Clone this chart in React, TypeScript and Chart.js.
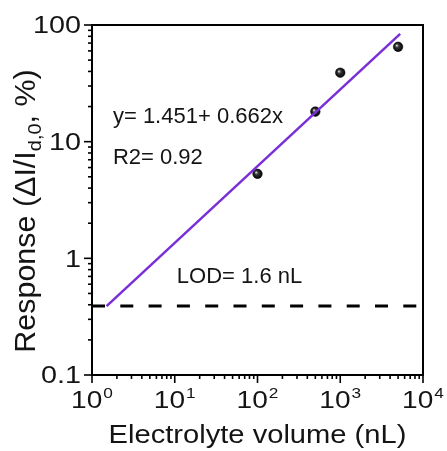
import { useEffect, useRef } from 'react';
import { Chart, registerables } from 'chart.js';

Chart.register(...registerables);

// ---- data ----
const volumes = [100, 500, 1000, 5000];
const responses = [5.3, 18.1, 39, 65];
const fitX = [1.5, 5300];
const fitY = [0.39, 84];
const lodX = [1, 10000];
const lodY = [0.39, 0.39];

// ---- axes / labels ----
const yTickValues = [0.1, 1, 10, 100];
const yTickLabels = ['0.1', '1', '10', '100'];
const xTickValues = [1, 10, 100, 1000, 10000];
const xTickBase = ['10', '10', '10', '10', '10'];
const xTickExp = ['0', '1', '2', '3', '4'];
const xTitle = 'Electrolyte volume (nL)';
const yTitleMain = 'Response (ΔI/I';
const yTitleSub = 'd,0';
const yTitleEnd = ', %)';
const noteTexts = ['y= 1.451+ 0.662x', 'R2= 0.92', 'LOD= 1.6 nL'];
const noteX = [1.79, 1.79, 10.6];
const noteY = [14.5, 6.44, 0.615];

const FONT = "Arial, 'Liberation Sans', sans-serif";
const TEXT = '#141414';

function drawStretched(ctx: CanvasRenderingContext2D, text: string, x: number, y: number, size: number, sx: number, align: 'left' | 'right' | 'center') {
  ctx.save();
  ctx.font = `${size}px ${FONT}`;
  const w = ctx.measureText(text).width * sx;
  let left = x;
  if (align === 'right') left = x - w;
  else if (align === 'center') left = x - w / 2;
  ctx.translate(left, y);
  ctx.scale(sx, 1);
  ctx.textAlign = 'left';
  ctx.fillText(text, 0, 0);
  ctx.restore();
  return w;
}

function seg(ctx: CanvasRenderingContext2D, x1: number, y1: number, x2: number, y2: number) {
  ctx.beginPath();
  ctx.moveTo(x1, y1);
  ctx.lineTo(x2, y2);
  ctx.stroke();
}

const decorPlugin = {
  id: 'decor',
  afterDraw(chart: any) {
    const ctx: CanvasRenderingContext2D = chart.ctx;
    const a = chart.chartArea;
    const xs = chart.scales.x;
    const ys = chart.scales.y;
    ctx.save();
    ctx.strokeStyle = '#000';
    ctx.fillStyle = TEXT;
    // frame
    ctx.lineWidth = 2;
    ctx.strokeRect(a.left, a.top, a.right - a.left, a.bottom - a.top);
    // y ticks
    ctx.lineWidth = 1.6;
    yTickValues.forEach((v, k) => {
      const py = ys.getPixelForValue(v);
      seg(ctx, a.left - 8, py, a.left, py);
      if (k < yTickValues.length - 1) {
        for (let m = 2; m <= 9; m++) {
          const p2 = ys.getPixelForValue(v * m);
          seg(ctx, a.left - 4, p2, a.left, p2);
        }
      }
    });
    // x ticks
    xTickValues.forEach((v, k) => {
      const px = xs.getPixelForValue(v);
      seg(ctx, px, a.bottom, px, a.bottom + 8);
      if (k < xTickValues.length - 1) {
        for (let m = 2; m <= 9; m++) {
          const p2 = xs.getPixelForValue(v * m);
          seg(ctx, p2, a.bottom, p2, a.bottom + 4);
        }
      }
    });
    // y tick labels
    ctx.textBaseline = 'alphabetic';
    yTickValues.forEach((v, k) => {
      const py = ys.getPixelForValue(v);
      drawStretched(ctx, yTickLabels[k], a.left - 11, py + 8.3, 23, 1.25, 'right');
    });
    // x tick labels
    xTickValues.forEach((v, k) => {
      const px = xs.getPixelForValue(v);
      ctx.font = `23px ${FONT}`;
      const wb = ctx.measureText(xTickBase[k]).width * 1.22;
      ctx.font = `15px ${FONT}`;
      const we = ctx.measureText(xTickExp[k]).width * 1.15;
      const total = wb + 1 + we;
      const left = px - total / 2;
      drawStretched(ctx, xTickBase[k], left, a.bottom + 33, 23, 1.22, 'left');
      drawStretched(ctx, xTickExp[k], left + wb + 1, a.bottom + 23, 15, 1.15, 'left');
    });
    // x title
    drawStretched(ctx, xTitle, (a.left + a.right) / 2, 443, 26, 1.12, 'center');
    // y title (rotated, with subscript)
    ctx.save();
    ctx.translate(35, 211);
    ctx.rotate(-Math.PI / 2);
    ctx.scale(1.05, 1);
    ctx.font = `29px ${FONT}`;
    const w1 = ctx.measureText(yTitleMain).width;
    const w3 = ctx.measureText(yTitleEnd).width;
    ctx.font = `19px ${FONT}`;
    const w2 = ctx.measureText(yTitleSub).width;
    let sx = -(w1 + w2 + w3) / 2;
    ctx.textAlign = 'left';
    ctx.font = `29px ${FONT}`;
    ctx.fillText(yTitleMain, sx, 0);
    sx += w1;
    ctx.font = `19px ${FONT}`;
    ctx.fillText(yTitleSub, sx, 6);
    sx += w2;
    ctx.font = `29px ${FONT}`;
    ctx.fillText(yTitleEnd, sx, 0);
    ctx.restore();
    // annotations
    noteTexts.forEach((t, k) => {
      const px = xs.getPixelForValue(noteX[k]);
      const py = ys.getPixelForValue(noteY[k]);
      drawStretched(ctx, t, px, py, 22, 1.0, 'left');
    });
    ctx.restore();
  },
};

function ballColor(c: any) {
  const ch = c.chart;
  const p = c.parsed;
  if (!p || !ch.scales || !ch.scales.x) return '#000';
  const px = ch.scales.x.getPixelForValue(p.x);
  const py = ch.scales.y.getPixelForValue(p.y);
  if (!isFinite(px) || !isFinite(py)) return '#000';
  const g = ch.ctx.createRadialGradient(px - 1.5, py - 1.5, 0.2, px, py, 5);
  g.addColorStop(0, '#d8d8d8');
  g.addColorStop(0.35, '#333');
  g.addColorStop(1, '#000');
  return g;
}

export default function App() {
  const ref = useRef<HTMLCanvasElement | null>(null);
  useEffect(() => {
    document.body.style.margin = '0';
    if (!ref.current) return;
    const chart = new Chart(ref.current, {
      type: 'scatter',
      data: {
        datasets: [
          {
            label: 'Fit',
            data: fitX.map((x, i) => ({ x, y: fitY[i] })),
            showLine: true,
            borderColor: '#7a2ed8',
            borderWidth: 2.5,
            pointRadius: 0,
            order: 0,
          },
          {
            label: 'Response',
            data: volumes.map((x, i) => ({ x, y: responses[i] })),
            backgroundColor: ballColor,
            borderColor: '#000',
            borderWidth: 0.5,
            pointRadius: 4.8,
            order: 1,
          },
          {
            label: 'LOD',
            data: lodX.map((x, i) => ({ x, y: lodY[i] })),
            showLine: true,
            borderColor: '#000',
            borderWidth: 3,
            borderDash: [13, 15.3],
            pointRadius: 0,
            order: 2,
          },
        ],
      },
      options: {
        animation: false,
        responsive: false,
        maintainAspectRatio: false,
        layout: { padding: { top: 25, right: 24, left: 0, bottom: 0 } },
        plugins: { legend: { display: false }, tooltip: { enabled: false } },
        scales: {
          x: {
            type: 'logarithmic',
            min: 1,
            max: 10000,
            grid: { display: false },
            border: { display: false },
            ticks: { display: false },
            afterFit: (s: any) => { s.height = 76; },
          },
          y: {
            type: 'logarithmic',
            min: 0.1,
            max: 100,
            grid: { display: false },
            border: { display: false },
            ticks: { display: false },
            afterFit: (s: any) => { s.width = 92; },
          },
        },
      },
      plugins: [decorPlugin],
    });
    return () => chart.destroy();
  }, []);
  return (
    <div style={{ width: 447, height: 451 }}>
      <canvas ref={ref} width={447} height={451} style={{ display: 'block' }} />
    </div>
  );
}
